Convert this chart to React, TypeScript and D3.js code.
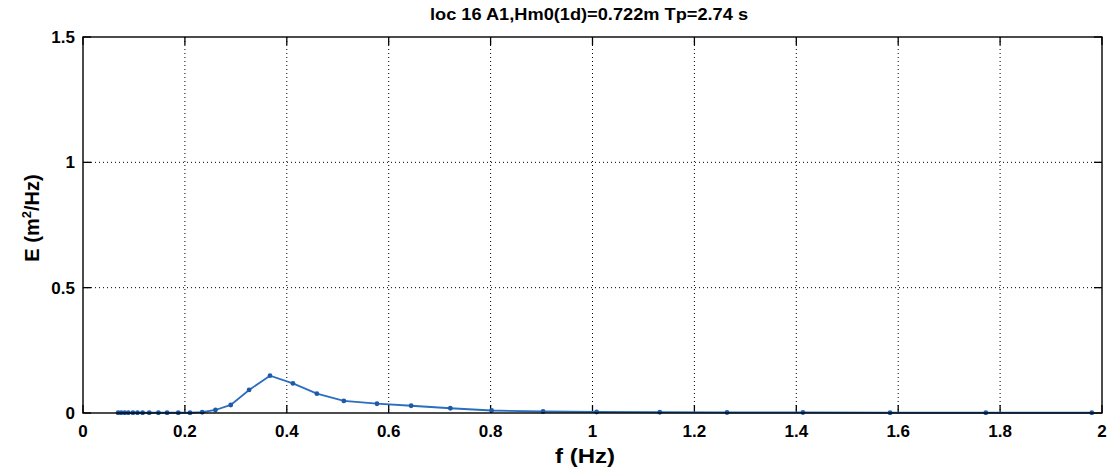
import React, { useEffect, useRef } from "react";
import * as d3 from "d3";

const freq = [0.069, 0.075, 0.082, 0.089, 0.098, 0.107, 0.117, 0.130, 0.148, 0.165, 0.187, 0.210, 0.234, 0.260, 0.290, 0.326, 0.367, 0.412, 0.459, 0.512, 0.577, 0.644, 0.721, 0.802, 0.903, 1.008, 1.132, 1.264, 1.413, 1.584, 1.772, 1.98];
const energy = [0.001, 0.001, 0.001, 0.001, 0.001, 0.001, 0.001, 0.001, 0.001, 0.001, 0.001, 0.001, 0.003, 0.012, 0.032, 0.092, 0.149, 0.118, 0.077, 0.048, 0.037, 0.029, 0.019, 0.010, 0.006, 0.004, 0.003, 0.002, 0.002, 0.001, 0.001, 0.001];
const xTicks = [0, 0.2, 0.4, 0.6, 0.8, 1, 1.2, 1.4, 1.6, 1.8, 2];
const yTicks = [0, 0.5, 1, 1.5];
const title = "loc 16 A1,Hm0(1d)=0.722m Tp=2.74 s";

export default function App() {
  const ref = useRef<SVGSVGElement>(null);
  useEffect(() => {
    const svg = d3.select(ref.current);
    svg.selectAll("*").remove();
    const L = 83, R = 1102, T = 37, B = 413;
    const x = d3.scaleLinear().domain([0, 2]).range([L, R]);
    const y = d3.scaleLinear().domain([0, 1.5]).range([B, T]);
    const font = "Arial, 'Liberation Sans', sans-serif";
    svg.append("rect").attr("width", 1111).attr("height", 475).attr("fill", "#fff");
    svg.append("defs").append("clipPath").attr("id", "clip").append("rect")
      .attr("x", L).attr("y", T - 2).attr("width", R - L).attr("height", B - T + 4);
    const g = svg.append("g");
    // grid
    xTicks.slice(1, -1).forEach((t) => {
      g.append("line").attr("x1", x(t)).attr("x2", x(t)).attr("y1", T).attr("y2", B)
        .attr("stroke", "#000").attr("stroke-width", 1).attr("stroke-dasharray", "1,3");
    });
    yTicks.slice(1, -1).forEach((t) => {
      g.append("line").attr("x1", L).attr("x2", R).attr("y1", y(t)).attr("y2", y(t))
        .attr("stroke", "#000").attr("stroke-width", 1).attr("stroke-dasharray", "1,3");
    });
    // ticks
    xTicks.forEach((t) => {
      g.append("line").attr("x1", x(t)).attr("x2", x(t)).attr("y1", B).attr("y2", B - 8).attr("stroke", "#000").attr("stroke-width", 1.3);
      g.append("line").attr("x1", x(t)).attr("x2", x(t)).attr("y1", T).attr("y2", T + 8).attr("stroke", "#000").attr("stroke-width", 1.3);
      g.append("text").attr("x", x(t)).attr("y", 437).attr("text-anchor", "middle")
        .attr("font-family", font).attr("font-weight", "bold").attr("font-size", 17).text(String(t));
    });
    yTicks.forEach((t) => {
      g.append("line").attr("x1", L).attr("x2", L + 8).attr("y1", y(t)).attr("y2", y(t)).attr("stroke", "#000").attr("stroke-width", 1.3);
      g.append("line").attr("x1", R).attr("x2", R - 8).attr("y1", y(t)).attr("y2", y(t)).attr("stroke", "#000").attr("stroke-width", 1.3);
      g.append("text").attr("x", L - 8).attr("y", y(t) + 6).attr("text-anchor", "end")
        .attr("font-family", font).attr("font-weight", "bold").attr("font-size", 17).text(String(t));
    });
    // data
    const pts = freq.map((f, i) => [f, energy[i]] as [number, number]);
    const line = d3.line<[number, number]>().x((d) => x(d[0])).y((d) => y(d[1]));
    const dg = g.append("g").attr("clip-path", "url(#clip)");
    dg.append("path").attr("d", line(pts) || "").attr("fill", "none").attr("stroke", "#2a6ebd").attr("stroke-width", 1.8);
    dg.selectAll("circle").data(pts).enter().append("circle")
      .attr("cx", (d) => x(d[0])).attr("cy", (d) => y(d[1])).attr("r", 2.4).attr("fill", "#1f5aa8");
    // box
    g.append("rect").attr("x", L).attr("y", T).attr("width", R - L).attr("height", B - T)
      .attr("fill", "none").attr("stroke", "#000").attr("stroke-width", 1.4);
    // labels
    g.append("text").attr("x", 430).attr("y", 20)
      .attr("textLength", 318).attr("lengthAdjust", "spacingAndGlyphs")
      .attr("font-family", font).attr("font-weight", "bold").attr("font-size", 16).text(title);
    g.append("text").attr("x", 555).attr("y", 463)
      .attr("textLength", 60).attr("lengthAdjust", "spacingAndGlyphs")
      .attr("font-family", font).attr("font-weight", "bold").attr("font-size", 20).text("f (Hz)");
    const yl = g.append("text").attr("transform", `translate(39,218) rotate(-90)`).attr("text-anchor", "middle")
      .attr("font-family", font).attr("font-weight", "bold").attr("font-size", 20);
    yl.append("tspan").text("E (m");
    yl.append("tspan").attr("font-size", 13).attr("dy", -8).text("2");
    yl.append("tspan").attr("dy", 8).text("/Hz)");
  }, []);
  return (
    <div style={{ position: "absolute", left: 0, top: 0 }}>
      <svg ref={ref} width={1111} height={475} />
    </div>
  );
}
